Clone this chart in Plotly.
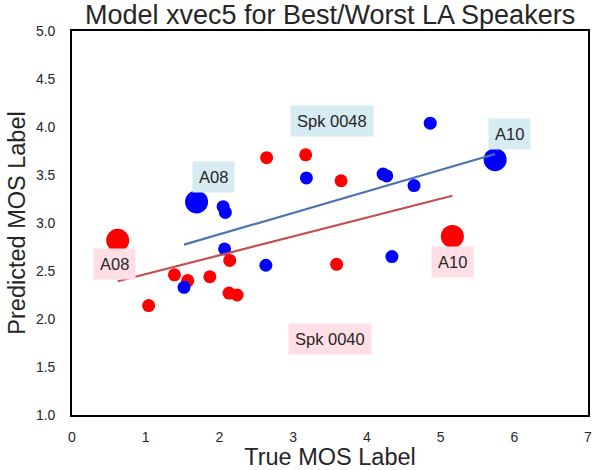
import numpy as np
import plotly.graph_objects as go

# Speaker 0048 (best) - blue
spk48_true = [1.69, 2.05, 2.08, 2.07, 1.52, 2.63, 3.18, 4.22, 4.27, 4.64, 4.34, 4.86, 5.74]
spk48_pred = [3.22, 3.17, 3.11, 2.73, 2.33, 2.56, 3.47, 3.51, 3.49, 3.39, 2.65, 4.04, 3.66]
spk48_size = [23, 13, 13, 13, 13, 13, 13, 13, 13, 13, 13, 13, 23]

# Speaker 0040 (worst) - red
spk40_true = [0.62, 1.04, 1.39, 1.57, 1.87, 2.14, 2.13, 2.24, 2.64, 3.17, 3.65, 3.59, 5.16]
spk40_pred = [2.82, 2.14, 2.46, 2.40, 2.44, 2.61, 2.27, 2.25, 3.68, 3.71, 3.44, 2.57, 2.86]
spk40_size = [23, 13, 13, 13, 13, 13, 13, 13, 13, 13, 13, 13, 23]

x_ticks = [0, 1, 2, 3, 4, 5, 6, 7]
y_ticks = [1.0, 1.5, 2.0, 2.5, 3.0, 3.5, 4.0, 4.5, 5.0]

# annotations: (text, x, y, bg)
labels = [
    ("Spk 0048", 3.53, 4.06, "#d6ebf2"),
    ("Spk 0040", 3.50, 1.79, "#ffdfe5"),
    ("A08", 1.92, 3.48, "#d6ebf2"),
    ("A10", 5.94, 3.93, "#d6ebf2"),
    ("A08", 0.57, 2.57, "#ffdfe5"),
    ("A10", 5.16, 2.59, "#ffdfe5"),
]

FONT = "Liberation Sans, Arial, sans-serif"
TXT = "#262626"

fig = go.Figure()

def fit_line(xs, ys):
    xs = np.array(xs); ys = np.array(ys)
    m, b = np.polyfit(xs, ys, 1)
    xx = np.array([xs.min(), xs.max()])
    return xx, m * xx + b

for xs, ys, sz, col in [
    (spk40_true, spk40_pred, spk40_size, "#ff0000"),
    (spk48_true, spk48_pred, spk48_size, "#0000ff"),
]:
    fig.add_trace(go.Scatter(x=xs, y=ys, mode="markers", opacity=1,
                             marker=dict(color=col, size=sz, opacity=1, line=dict(width=0)),
                             showlegend=False, hoverinfo="skip"))

for xs, ys, lcol in [
    (spk40_true, spk40_pred, "#c44e52"),
    (spk48_true, spk48_pred, "#4c72b0"),
]:
    lx, ly = fit_line(xs, ys)
    fig.add_trace(go.Scatter(x=lx, y=ly, mode="lines",
                             line=dict(color=lcol, width=2.2),
                             showlegend=False, hoverinfo="skip"))

for text, x, y, bg in labels:
    fig.add_annotation(x=x, y=y, text=text, showarrow=False,
                       font=dict(family=FONT, size=16.5, color=TXT),
                       bgcolor=bg, borderpad=6, xanchor="center", yanchor="middle")

fig.update_layout(
    width=592, height=470,
    margin=dict(l=72, r=4, t=31, b=55, autoexpand=False),
    paper_bgcolor="white", plot_bgcolor="white",
    font=dict(family=FONT, color=TXT),
    title=dict(text="Model xvec5 for Best/Worst LA Speakers",
               font=dict(family=FONT, size=27, color=TXT),
               x=0.5575, xanchor="center", y=1 - 15 / 470, yanchor="middle", yref="container"),
)
fig.update_xaxes(range=[0, 7], tickvals=x_ticks, ticktext=[str(t) for t in x_ticks],
                 showgrid=False, zeroline=False, showline=True, linecolor="black",
                 linewidth=1.6, mirror=True, ticks="outside", ticklen=8,
                 tickcolor="rgba(0,0,0,0)", automargin=False, ticklabeloverflow="allow",
                 tickfont=dict(family=FONT, size=14, color=TXT),
                 title=dict(text="True MOS Label", font=dict(family=FONT, size=23.5, color=TXT),
                            standoff=4))
fig.update_yaxes(range=[1, 5], tickvals=y_ticks, ticktext=[f"{t:.1f}" for t in y_ticks],
                 showgrid=False, zeroline=False, showline=True, linecolor="black",
                 linewidth=1.6, mirror=True, ticks="outside", ticklen=12,
                 tickcolor="rgba(0,0,0,0)", automargin=False, ticklabeloverflow="allow",
                 tickfont=dict(family=FONT, size=14, color=TXT),
                 title=dict(text="Predicted MOS Label", font=dict(family=FONT, size=23.5, color=TXT),
                            standoff=4))

fig.write_html("out.html", config={"displayModeBar": False},
               post_script="document.body.style.margin='0';")
